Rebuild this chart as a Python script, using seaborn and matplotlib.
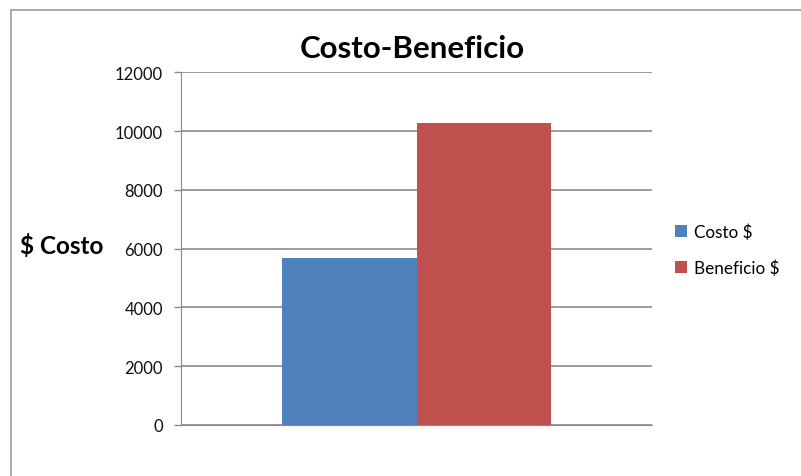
import matplotlib
matplotlib.use("Agg")
import matplotlib.pyplot as plt
from matplotlib.patches import Rectangle
import pandas as pd
import seaborn as sns

# data
series = ["Costo $", "Beneficio $"]
values = [5680, 10270]
colors = ["#4F81BD", "#C0504D"]
yticks = [0, 2000, 4000, 6000, 8000, 10000, 12000]

df = pd.DataFrame({"grupo": ["" for _ in series], "serie": series, "valor": values})

sns.set_style("white")
plt.rcParams["font.family"] = ["Lato", "DejaVu Sans"]
plt.rcParams["text.color"] = "black"

fig = plt.figure(figsize=(8.01, 4.77), dpi=100)
ax = fig.add_axes([181 / 801, 1 - 426 / 477, (652 - 181) / 801, (426 - 73.3) / 477])

sns.barplot(data=df, x="grupo", y="valor", hue="serie", palette=colors,
            width=0.573, saturation=1, ax=ax, legend=True)

ax.set_xlim(-0.5, 0.5)
ax.set_ylim(0, 12000)
ax.set_yticks(yticks)
ax.set_yticklabels([str(t) for t in yticks], fontsize=12, color="#111111")
ax.set_xticks([])
ax.set_xlabel("")
ax.set_ylabel("")
ax.yaxis.grid(True, color="#8a8a8a", linewidth=1.2)
ax.set_axisbelow(True)
ax.tick_params(axis="y", length=5, width=1, color="#8a8a8a", left=True, pad=8)
for side in ["top", "right"]:
    ax.spines[side].set_visible(False)
ax.spines["left"].set_color("#8a8a8a")
ax.spines["bottom"].set_color("#8a8a8a")
for p in ax.patches:
    p.set_edgecolor("none")

fig.text(412 / 801, 1 - 49 / 477, "Costo-Beneficio", ha="center", va="center",
         fontsize=22.5, fontweight="bold", color="black")
fig.text(62 / 801, 1 - 246 / 477, "$ Costo", ha="center", va="center",
         fontsize=17.5, fontweight="bold", color="black")

handles, labels = ax.get_legend_handles_labels()
leg = ax.legend(handles, labels, loc="center left", bbox_to_anchor=(660 / 801, 1 - 251 / 477),
                bbox_transform=fig.transFigure, frameon=False, fontsize=12.3,
                handlelength=0.7, handleheight=0.7, handletextpad=0.4, labelspacing=1.15)
for t in leg.get_texts():
    t.set_color("black")

# chart area border (clipped by the image edge on the right/bottom)
fig.patches.append(Rectangle((11 / 801, -0.1), 1.2, 1.1 - 11 / 477,
                             transform=fig.transFigure, fill=False,
                             edgecolor="#9a9a9a", linewidth=1.2))

fig.savefig("out.png", dpi=100)
